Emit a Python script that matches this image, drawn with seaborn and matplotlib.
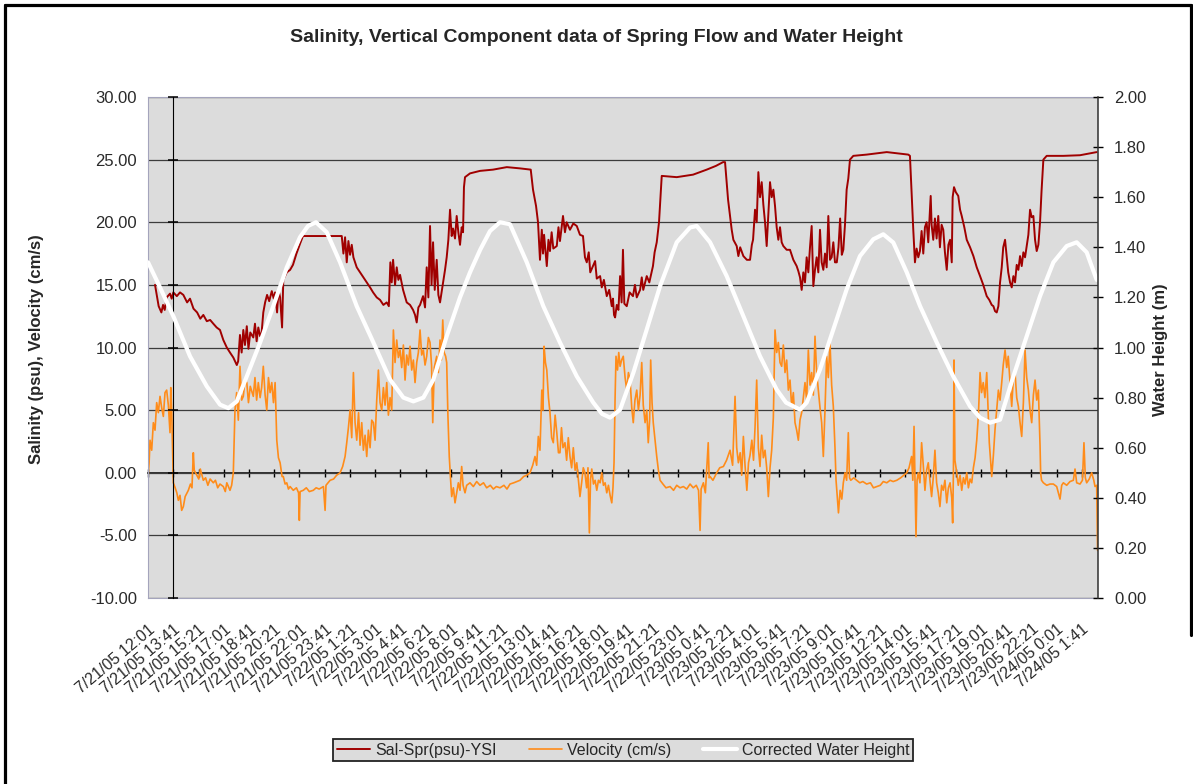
import numpy as np
import pandas as pd
import matplotlib
matplotlib.use("Agg")
import matplotlib.pyplot as plt
from matplotlib.lines import Line2D
from matplotlib.ticker import FormatStrFormatter
import seaborn as sns

# Data (hours after 7/21/05 12:01)
tick_labels = [
    "7/21/05 12:01", "7/21/05 13:41", "7/21/05 15:21", "7/21/05 17:01", "7/21/05 18:41",
    "7/21/05 20:21", "7/21/05 22:01", "7/21/05 23:41", "7/22/05 1:21", "7/22/05 3:01",
    "7/22/05 4:41", "7/22/05 6:21", "7/22/05 8:01", "7/22/05 9:41", "7/22/05 11:21",
    "7/22/05 13:01", "7/22/05 14:41", "7/22/05 16:21", "7/22/05 18:01", "7/22/05 19:41",
    "7/22/05 21:21", "7/22/05 23:01", "7/23/05 0:41", "7/23/05 2:21", "7/23/05 4:01",
    "7/23/05 5:41", "7/23/05 7:21", "7/23/05 9:01", "7/23/05 10:41", "7/23/05 12:21",
    "7/23/05 14:01", "7/23/05 15:41", "7/23/05 17:21", "7/23/05 19:01", "7/23/05 20:41",
    "7/23/05 22:21", "7/24/05 0:01", "7/24/05 1:41",
]
t_end = 62.73  # last sample, about 7/24/05 2:45
axis_cross_label = "7/21/05 13:41"

sal_hours = [
    0.46, 0.57, 0.70, 0.88, 0.99, 1.10, 1.23, 1.45, 1.56, 1.67, 1.90, 2.11, 2.33, 2.58, 2.77,
    3.00, 3.24, 3.45, 3.65, 3.88, 4.10, 4.31, 4.53, 4.75, 4.97, 5.20, 5.41, 5.63, 5.86, 5.95,
    6.07, 6.18, 6.29, 6.40, 6.52, 6.63, 6.75, 6.95, 7.06, 7.17, 7.28, 7.40, 7.50, 7.61, 7.73,
    7.86, 8.00, 8.17, 8.30, 8.39, 8.52, 8.62, 8.72, 8.85, 8.93, 9.16, 9.38, 9.57, 9.80, 10.04,
    10.23, 11.00, 12.00, 12.79, 12.90, 13.01, 13.12, 13.23, 13.34, 13.45, 13.56, 13.78, 14.00,
    14.22, 14.44, 14.66, 14.86, 15.10, 15.32, 15.54, 15.76, 15.90, 16.00, 16.09, 16.18, 16.31,
    16.42, 16.53, 16.64, 16.84, 17.08, 17.30, 17.50, 17.63, 17.74, 17.85, 17.96, 18.16, 18.29,
    18.40, 18.51, 18.62, 18.72, 18.82, 18.93, 19.06, 19.17, 19.28, 19.48, 19.61, 19.72, 19.83,
    19.94, 20.05, 20.14, 20.27, 20.38, 20.49, 20.60, 20.71, 20.80, 20.86, 20.93, 21.26, 21.92,
    22.78, 23.69, 24.56, 25.27, 25.42, 25.62, 25.75, 25.88, 26.00, 26.08, 26.15, 26.33, 26.44,
    26.54, 26.65, 26.76, 26.99, 27.10, 27.20, 27.40, 27.53, 27.64, 27.86, 28.08, 28.31, 28.52,
    28.72, 28.85, 28.97, 29.10, 29.20, 29.38, 29.52, 29.63, 29.85, 29.96, 30.10, 30.29, 30.45,
    30.62, 30.70, 30.77, 30.84, 30.95, 31.06, 31.17, 31.27, 31.36, 31.45, 31.61, 31.80, 32.02,
    32.15, 32.27, 32.49, 32.60, 32.70, 32.93, 33.10, 33.34, 33.45, 33.59, 33.74, 33.92, 34.91,
    35.99, 36.89, 37.50, 37.97, 38.10, 38.30, 38.54, 38.65, 38.87, 38.98, 39.10, 39.31, 39.54,
    39.75, 39.87, 39.95, 40.08, 40.19, 40.30, 40.41, 40.52, 40.63, 40.74, 40.85, 40.96, 41.07,
    41.18, 41.29, 41.40, 41.51, 41.62, 41.73, 41.84, 41.95, 42.17, 42.39, 42.61, 42.83, 42.94,
    43.05, 43.16, 43.27, 43.38, 43.49, 43.60, 43.71, 43.82, 43.93, 44.04, 44.15, 44.26, 44.37,
    44.48, 44.59, 44.70, 44.81, 44.92, 45.03, 45.14, 45.25, 45.36, 45.48, 45.59, 45.70, 45.81,
    45.91, 46.02, 46.13, 46.24, 46.35, 46.57, 47.45, 48.78, 50.20, 50.31, 50.42, 50.53, 50.64,
    50.75, 50.86, 50.97, 51.08, 51.19, 51.30, 51.41, 51.52, 51.63, 51.68, 51.74, 51.85, 51.96,
    52.07, 52.18, 52.29, 52.40, 52.51, 52.62, 52.74, 52.85, 52.96, 53.07, 53.13, 53.22, 53.34,
    53.50, 53.62, 53.73, 53.90, 54.06, 54.28, 54.50, 54.72, 54.94, 55.15, 55.38, 55.55, 55.71,
    55.82, 55.93, 56.04, 56.15, 56.26, 56.37, 56.47, 56.59, 56.70, 56.80, 56.92, 57.03, 57.14,
    57.25, 57.36, 57.47, 57.58, 57.69, 57.80, 57.91, 58.02, 58.13, 58.24, 58.35, 58.46, 58.57,
    58.68, 58.79, 58.90, 59.00, 59.12, 59.34, 60.44, 61.54, 62.64,
]
sal_psu = [
    15.0, 14.2, 13.3, 12.8, 13.4, 13.0, 14.0, 14.3, 13.9, 14.4, 14.1, 14.4, 14.2, 13.6, 13.9,
    13.1, 12.8, 12.3, 12.6, 12.1, 12.2, 11.9, 11.6, 11.4, 10.6, 10.0, 9.6, 9.2, 8.6, 8.9,
    11.0, 9.6, 11.4, 10.2, 11.7, 9.9, 11.2, 10.8, 11.9, 10.5, 11.6, 10.9, 11.2, 12.8, 13.6,
    14.2, 13.7, 14.5, 13.9, 14.4, 12.8, 14.6, 14.0, 11.6, 15.4, 16.0, 16.2, 16.6, 17.5, 18.3,
    18.9, 18.9, 18.9, 18.9, 17.5, 18.8, 16.8, 18.5, 17.4, 18.2, 17.2, 16.4, 16.0,
    15.6, 15.2, 14.8, 14.4, 14.0, 13.8, 13.4, 13.6, 13.3, 16.8, 15.2, 17.0, 15.0,
    16.4, 15.4, 15.8, 14.6, 13.6, 13.4, 13.0, 12.6, 12.0, 13.2, 13.4, 14.1, 13.2,
    16.4, 14.0, 19.7, 15.0, 18.4, 14.6, 17.0, 14.2, 13.6, 15.2, 16.2, 17.2, 18.6,
    21.0, 18.9, 19.5, 18.7, 20.5, 19.2, 18.2, 19.6, 19.2, 22.8, 23.6, 23.9, 24.1,
    24.2, 24.4, 24.3, 24.2, 22.6, 21.3, 20.0, 17.0, 19.4, 17.5, 19.0, 16.5, 18.6,
    17.7, 19.2, 17.9, 18.1, 19.6, 18.5, 20.5, 19.2, 20.0, 19.4, 19.9, 19.7, 19.0,
    18.9, 17.2, 16.8, 17.6, 16.0, 16.5, 16.9, 15.5, 15.7, 14.8, 15.4, 14.1, 14.6,
    13.3, 13.9, 12.6, 12.4, 13.4, 13.0, 15.7, 13.6, 17.8, 13.5, 13.3, 14.4, 14.1,
    15.0, 14.0, 14.6, 15.6, 14.6, 15.7, 15.2, 16.5, 17.6, 18.4, 20.0, 23.7, 23.6,
    23.8, 24.2, 24.5, 24.8, 24.8, 21.8, 19.4, 18.6, 18.1, 17.3, 18.0, 17.3, 17.0,
    17.0, 18.2, 18.6, 21.0, 20.0, 24.0, 22.0, 23.2, 21.4, 20.0, 18.1, 20.6, 23.2,
    22.0, 22.6, 21.3, 19.6, 18.6, 19.6, 18.4, 18.1, 17.8, 17.8, 17.0, 16.5, 16.1,
    15.6, 14.6, 16.0, 15.2, 17.2, 16.0, 18.0, 19.7, 14.9, 16.2, 17.2, 16.0, 19.4,
    16.8, 16.2, 17.5, 16.4, 20.5, 17.0, 17.2, 18.4, 16.8, 16.8, 18.0, 20.3, 17.4,
    17.8, 19.8, 22.6, 23.5, 25.0, 25.3, 25.4, 25.6, 25.4, 25.3, 22.4, 19.4, 16.8,
    17.9, 17.2, 17.7, 19.3, 17.5, 19.6, 20.0, 18.4, 21.0, 22.1, 19.8, 18.6, 20.3,
    18.7, 20.5, 18.0, 19.8, 19.4, 17.6, 16.2, 18.2, 18.6, 16.8, 22.0, 22.8, 22.4,
    22.1, 21.0, 20.5, 19.6, 18.6, 18.0, 17.3, 16.4, 15.7, 15.0, 14.1, 13.8, 13.4,
    13.3, 12.9, 12.8, 13.3, 15.2, 16.4, 18.0, 18.6, 17.2, 16.0, 15.2, 14.8, 15.7,
    15.2, 16.6, 16.2, 17.3, 16.5, 17.6, 17.2, 18.1, 19.0, 21.0, 20.4, 20.5, 18.6,
    17.7, 18.2, 20.0, 22.5, 25.0, 25.3, 25.3, 25.35, 25.6,
]

vel_hours = [
    0.00, 0.07, 0.13, 0.24, 0.35, 0.46, 0.57, 0.68, 0.79, 0.90, 1.01, 1.12, 1.23, 1.34, 1.45,
    1.50, 1.56, 1.62, 1.67, 1.79, 1.90, 2.00, 2.11, 2.22, 2.33, 2.45, 2.66, 2.80, 2.90, 2.99,
    3.05, 3.22, 3.35, 3.45, 3.65, 3.80, 3.95, 4.10, 4.31, 4.45, 4.60, 4.75, 4.97, 5.10, 5.20,
    5.41, 5.52, 5.63, 5.74, 5.85, 5.96, 6.07, 6.18, 6.29, 6.40, 6.52, 6.63, 6.75, 6.95, 7.06,
    7.17, 7.28, 7.40, 7.50, 7.61, 7.73, 7.84, 7.95, 8.06, 8.17, 8.28, 8.39, 8.50, 8.61, 8.72,
    8.85, 8.93, 9.05, 9.16, 9.27, 9.38, 9.59, 9.80, 9.94, 9.99, 10.04, 10.25, 10.45, 10.65, 10.91,
    11.10, 11.30, 11.58, 11.69, 11.75, 12.02, 12.25, 12.45, 12.68, 12.85, 13.01, 13.12, 13.23,
    13.34, 13.45, 13.56, 13.67, 13.78, 13.90, 14.00, 14.11, 14.22, 14.33, 14.44, 14.55, 14.66,
    14.77, 14.88, 14.99, 15.10, 15.21, 15.32, 15.43, 15.54, 15.65, 15.76, 15.87, 15.98, 16.09,
    16.20, 16.31, 16.42, 16.53, 16.64, 16.75, 16.86, 16.97, 17.08, 17.19, 17.30, 17.41, 17.52,
    17.63, 17.74, 17.85, 17.96, 18.07, 18.18, 18.29, 18.40, 18.51, 18.62, 18.72, 18.80, 18.90,
    19.06, 19.17, 19.28, 19.37, 19.46, 19.55, 19.65, 19.72, 19.80, 19.89, 19.97, 20.05, 20.16,
    20.27, 20.38, 20.49, 20.60, 20.71, 20.80, 20.93, 21.04, 21.26, 21.48, 21.70, 21.92, 22.15,
    22.36, 22.60, 22.80, 23.00, 23.24, 23.50, 23.70, 23.90, 24.15, 24.35, 24.56, 24.80, 25.00,
    25.22, 25.40, 25.55, 25.66, 25.77, 25.88, 26.00, 26.08, 26.15, 26.24, 26.33, 26.44, 26.54,
    26.65, 26.76, 26.88, 26.99, 27.10, 27.20, 27.30, 27.40, 27.53, 27.64, 27.75, 27.86, 27.97,
    28.08, 28.20, 28.31, 28.42, 28.52, 28.63, 28.74, 28.85, 28.96, 29.05, 29.14, 29.22, 29.30,
    29.41, 29.52, 29.63, 29.74, 29.85, 29.96, 30.07, 30.18, 30.29, 30.40, 30.51, 30.62, 30.70,
    30.77, 30.84, 30.90, 31.00, 31.08, 31.17, 31.27, 31.38, 31.50, 31.61, 31.72, 31.83, 31.94,
    32.04, 32.15, 32.27, 32.38, 32.49, 32.60, 32.70, 32.82, 32.93, 33.03, 33.12, 33.19, 33.28,
    33.36, 33.48, 33.59, 33.70, 33.81, 34.00, 34.20, 34.47, 34.70, 34.91, 35.13, 35.35, 35.57,
    35.79, 36.00, 36.20, 36.35, 36.45, 36.52, 36.67, 36.80, 36.99, 37.05, 37.11, 37.30, 37.55,
    37.75, 37.99, 38.20, 38.43, 38.60, 38.76, 38.87, 38.98, 39.10, 39.20, 39.31, 39.42, 39.54,
    39.65, 39.75, 39.87, 39.98, 40.08, 40.19, 40.30, 40.41, 40.52, 40.63, 40.74, 40.85, 40.96,
    41.07, 41.18, 41.29, 41.40, 41.51, 41.62, 41.73, 41.84, 41.95, 42.06, 42.17, 42.28, 42.39,
    42.50, 42.61, 42.72, 42.83, 42.94, 43.05, 43.16, 43.27, 43.38, 43.49, 43.60, 43.71, 43.82,
    43.93, 44.04, 44.15, 44.26, 44.37, 44.48, 44.59, 44.70, 44.81, 44.92, 45.03, 45.14, 45.25,
    45.36, 45.43, 45.52, 45.59, 45.70, 45.81, 45.91, 46.02, 46.13, 46.24, 46.32, 46.40, 46.60,
    46.79, 47.00, 47.20, 47.45, 47.70, 47.90, 48.12, 48.35, 48.55, 48.78, 49.00, 49.20, 49.44,
    49.70, 49.90, 50.10, 50.25, 50.42, 50.50, 50.58, 50.64, 50.71, 50.78, 50.86, 50.97, 51.08,
    51.19, 51.30, 51.41, 51.52, 51.63, 51.74, 51.85, 51.96, 52.07, 52.18, 52.29, 52.40, 52.51,
    52.62, 52.74, 52.85, 52.96, 53.07, 53.13, 53.18, 53.22, 53.28, 53.40, 53.50, 53.62, 53.73,
    53.84, 53.95, 54.06, 54.17, 54.28, 54.39, 54.50, 54.61, 54.72, 54.83, 54.94, 55.04, 55.15,
    55.26, 55.38, 55.46, 55.55, 55.63, 55.71, 55.82, 55.93, 56.04, 56.15, 56.26, 56.37, 56.47,
    56.59, 56.70, 56.80, 56.92, 57.03, 57.14, 57.25, 57.36, 57.47, 57.58, 57.69, 57.80, 57.91,
    58.02, 58.13, 58.24, 58.35, 58.46, 58.57, 58.68, 58.79, 58.90, 58.94, 59.00, 59.12, 59.34,
    59.56, 59.78, 60.00, 60.22, 60.33, 60.44, 60.66, 60.88, 61.10, 61.21, 61.32, 61.54, 61.70,
    61.80, 61.89, 61.98, 62.15, 62.31, 62.45, 62.53, 62.64, 62.70,
]
vel_cms = [
    -0.3, 0.8, 2.6, 1.8, 4.0, 3.4, 5.6, 4.8, 6.1, 5.2, 4.5, 6.4, 6.6, 5.4, 3.2,
    6.8, 5.0, 2.0, -0.8, -1.2, -1.6, -2.2, -1.8, -3.0, -2.7, -1.9, -1.4, -0.9, -1.2, 1.6,
    0.2, -0.2, -0.5, 0.3, -0.6, -0.4, -1.0, -0.5, -0.8, -0.6, -1.2, -0.9, -1.1, -1.5, -0.8,
    -1.4, -1.0, 0.0, 5.0, 6.4, 4.2, 8.5, 5.8, 6.1, 7.4, 7.2, 5.6, 6.9, 6.1, 7.6,
    5.8, 7.2, 6.0, 6.8, 8.5, 6.2, 5.0, 7.6, 6.4, 7.2, 5.6, 7.2, 2.6, 1.2, 0.8,
    -0.3, -0.3, -0.9, -0.8, -1.3, -1.1, -1.4, -1.2, -1.6, -3.8, -1.5, -1.4, -1.2, -1.5, -1.4,
    -1.2, -1.3, -1.1, -3.0, -1.0, -0.6, -0.5, -0.2, 0.0, 0.5, 1.3, 2.4, 3.6,
    5.0, 2.8, 8.0, 4.0, 2.6, 4.8, 2.2, 4.0, 1.8, 3.0, 1.3, 3.4, 2.0,
    4.2, 4.0, 2.6, 5.8, 8.2, 5.6, 5.0, 6.8, 5.4, 7.2, 4.6, 6.0, 5.0,
    11.4, 8.8, 10.6, 9.2, 9.8, 8.4, 10.2, 7.4, 9.4, 8.6, 10.1, 8.2, 9.0,
    7.2, 8.8, 9.6, 11.4, 9.4, 9.8, 8.6, 9.3, 10.8, 10.4, 8.6, 4.0, 8.4,
    9.3, 8.0, 10.6, 9.0, 12.2, 9.6, 9.3, 8.8, 4.6, 1.3, -0.4, -1.9, -1.2,
    -2.4, -1.6, -0.8, -1.4, 0.5, -1.0, -1.6, -1.0, -0.8, -1.1, -0.7, -1.0, -0.8,
    -1.2, -1.0, -1.3, -1.1, -1.2, -1.0, -1.3, -0.9, -0.8, -0.7, -0.6, -0.3, -0.2,
    0.0, 0.6, 1.3, 0.6, 2.9, 1.8, 6.6, 5.0, 10.1, 8.8, 8.2, 6.0, 4.8,
    2.8, 2.4, 4.6, 3.2, 1.6, 1.6, 3.6, 2.0, 2.4, 1.0, 2.8, 1.3, 0.4,
    2.0, 0.2, 0.8, -0.6, -1.9, -0.8, 0.4, 0.0, -1.2, 0.4, -4.8, -0.5, 0.3,
    -0.9, -0.6, -1.4, -0.6, -0.8, 0.0, -1.0, -0.8, -1.6, -1.0, -1.8, -2.4, -1.2,
    0.8, 6.0, 9.3, 8.2, 9.6, 8.5, 9.0, 9.3, 7.6, 6.6, 8.0, 7.4, 5.2,
    4.0, 5.8, 6.6, 5.0, 6.2, 8.8, 5.4, 4.0, 5.0, 2.4, 4.2, 9.0, 5.6,
    4.0, 2.6, 1.3, 0.2, -0.6, -0.9, -1.2, -1.1, -1.4, -1.0, -1.2, -1.1, -1.3,
    -0.9, -1.2, -1.0, -1.4, -4.6, -1.3, -0.8, -1.6, 2.4, -0.4, -0.3, -0.6, 0.0,
    0.4, 0.5, 1.0, 1.8, 0.6, 6.1, 2.0, 0.8, 1.6, -0.2, 2.9, 0.6, -1.4,
    0.8, 1.4, 2.6, 1.0, 3.6, 7.4, 2.0, 0.5, 3.0, 1.2, 1.8, 0.4, -1.9,
    0.4, 1.8, 4.4, 11.4, 9.6, 10.4, 8.8, 8.5, 10.2, 8.0, 9.0, 6.6, 7.4,
    5.3, 6.4, 4.0, 3.4, 2.6, 4.2, 4.8, 6.0, 7.2, 5.8, 9.8, 7.0, 8.0,
    6.2, 10.9, 8.0, 6.6, 5.2, 4.0, 1.3, 5.0, 9.3, 7.6, 10.4, 7.0, 5.3,
    2.0, -0.6, -2.0, -3.2, -1.4, -2.1, -0.8, 0.0, -0.6, 3.2, -0.4, -0.6, -0.4,
    -0.6, -0.8, -0.7, -0.9, -0.8, -1.2, -1.1, -1.0, -0.7, -0.8, -0.6, -0.7, -0.6,
    -0.4, -0.2, 0.0, 0.4, 1.3, -0.6, 3.7, -0.4, -5.1, -0.6, 0.0, -0.8, 2.4,
    0.6, -1.4, 0.2, 0.8, -0.6, -1.9, -0.4, 1.8, -0.8, -1.6, -2.7, -1.0, -1.4,
    -0.6, -2.4, -1.2, -0.8, -2.0, -4.0, 0.0, 9.0, 1.0, 0.0, -1.0, -0.2, -1.4,
    -0.4, -0.9, 0.0, -1.2, -0.5, -0.8, 0.4, 1.2, 2.6, 4.6, 8.0, 6.4, 7.2,
    6.0, 8.0, 5.4, 2.4, 1.0, -0.3, 1.4, 3.5, 5.0, 6.6, 5.8, 7.2, 8.6,
    9.8, 8.4, 9.3, 7.2, 5.3, 7.6, 8.0, 6.0, 5.3, 4.0, 2.9, 5.6, 9.8,
    7.6, 6.6, 5.0, 4.0, 6.2, 7.4, 5.8, 6.6, 2.2, 0.0, -0.6, -0.8, -1.0,
    -0.9, -0.9, -1.1, -2.1, -1.0, -0.8, -1.0, -0.7, -0.6, 0.3, -0.8, -0.9, -0.6,
    2.4, -0.4, -0.8, -0.5, 0.0, -0.6, -1.1, -1.0, -6.2,
]

wh_hours = [
    0.00, 0.79, 1.67, 2.77, 3.88, 4.75, 5.30, 5.86, 6.52, 7.40, 8.27, 9.16, 10.03, 10.56, 11.09,
    11.80, 12.68, 13.78, 14.88, 15.98, 16.86, 17.52, 18.18, 18.84, 19.72, 20.60, 21.26, 21.93,
    22.58, 23.24, 23.90, 25.01, 26.10, 27.20, 28.31, 29.40, 29.98, 30.51, 31.17, 32.05, 32.93,
    33.81, 34.91, 35.79, 36.23, 37.11, 38.21, 39.31, 40.41, 41.51, 42.13, 43.05, 43.49, 44.37,
    45.25, 46.13, 47.01, 47.89, 48.55, 49.21, 50.10, 50.98, 52.08, 53.17, 54.28, 54.94, 55.60,
    56.26, 57.14, 58.02, 58.90, 59.78, 60.66, 61.32, 61.98, 62.64,
]
wh_m = [
    1.34, 1.24, 1.125, 0.965, 0.845, 0.772, 0.758, 0.785, 0.885, 1.02, 1.165, 1.32, 1.44, 1.485,
    1.50, 1.46, 1.34, 1.165, 1.02, 0.872, 0.80, 0.785, 0.80, 0.872, 1.045, 1.20, 1.30, 1.39,
    1.465, 1.50, 1.492, 1.34, 1.165, 1.02, 0.885, 0.78, 0.735, 0.72, 0.752, 0.90, 1.072,
    1.245, 1.42, 1.479, 1.485, 1.42, 1.285, 1.125, 0.965, 0.832, 0.78, 0.752, 0.78, 0.912,
    1.072, 1.232, 1.365, 1.432, 1.452, 1.419, 1.30, 1.165, 1.02, 0.885, 0.765, 0.72, 0.70,
    0.712, 0.885, 1.045, 1.205, 1.34, 1.405, 1.42, 1.38, 1.27,
]

# tick positions straight from the category labels
start = pd.to_datetime(tick_labels[0], format="%m/%d/%y %H:%M")
tick_hours = [(pd.to_datetime(s, format="%m/%d/%y %H:%M") - start).total_seconds() / 3600
              for s in tick_labels]
cross_hour = (pd.to_datetime(axis_cross_label, format="%m/%d/%y %H:%M") - start).total_seconds() / 3600

sns.set_style("white")
plt.rcParams["font.family"] = ["Liberation Sans", "DejaVu Sans"]

fig = plt.figure(figsize=(11.93, 7.84), dpi=100)
ax = fig.add_axes([0.1241, 0.2372, 0.7963, 0.6391])
ax.set_facecolor("#DCDCDC")

ax.set_xlim(0, t_end)
ax.set_ylim(-10, 30)
ax.set_yticks(np.arange(-10, 31, 5))
ax.yaxis.set_major_formatter(FormatStrFormatter("%.2f"))
ax.grid(axis="y", color="#3c3c3c", lw=0.9)
ax.set_axisbelow(True)
for side in ["left", "top", "bottom"]:
    ax.spines[side].set_color("#a4a4bc")
ax.spines["right"].set_visible(False)
ax.tick_params(axis="y", length=0, pad=8, labelsize=12, labelcolor="#2a2a2a")
ax.set_xticks(tick_hours)
ax.set_xticklabels(tick_labels, rotation=40, ha="right", va="top",
                   rotation_mode="anchor", fontsize=11.5, color="#2a2a2a")
ax.tick_params(axis="x", length=0, pad=17)

sns.lineplot(x=sal_hours, y=sal_psu, ax=ax, color="#A00000", lw=1.4,
             estimator=None, sort=False, label="Sal-Spr(psu)-YSI", legend=False)
sns.lineplot(x=vel_hours, y=vel_cms, ax=ax, color="#FF8C1A", lw=1.2,
             estimator=None, sort=False, label="Velocity (cm/s)", legend=False)
ax.set_xlabel("")
ax.set_ylabel("")

# category axis crossing at 0, value axis crossing at 13:41
zero_axis = ax.secondary_xaxis((0 - (-10)) / 40)
zero_axis.set_xticks(tick_hours)
zero_axis.set_xticklabels([])
zero_axis.tick_params(direction="inout", length=6, width=1, color="black")
zero_axis.spines["bottom"].set_color("black")
zero_axis.spines["bottom"].set_linewidth(1.1)

val_axis = ax.secondary_yaxis(cross_hour / t_end)
val_axis.set_yticks(np.arange(-10, 31, 5))
val_axis.set_yticklabels([])
val_axis.tick_params(direction="inout", length=7, width=1.1, color="black")
val_axis.spines["left"].set_color("black")
val_axis.set_zorder(5)

ax2 = ax.twinx()
sns.lineplot(x=wh_hours, y=wh_m, ax=ax2, color="white", lw=3.0,
             estimator=None, sort=False, label="Corrected Water Height", legend=False)
ax2.set_ylim(0, 2)
ax2.set_xlim(0, t_end)
ax2.set_yticks(np.arange(0, 2.01, 0.2))
ax2.yaxis.set_major_formatter(FormatStrFormatter("%.2f"))
ax2.tick_params(axis="y", direction="inout", length=7, width=1, color="black",
                pad=8, labelsize=12, labelcolor="#2a2a2a")
ax2.spines["right"].set_color("#303030")
ax2.spines["right"].set_linewidth(1.1)
for side in ["left", "top", "bottom"]:
    ax2.spines[side].set_visible(False)
ax2.set_ylabel("")
ax2.set_xlabel("")

fig.text(0.5, 1 - 37 / 784, "Salinity, Vertical Component data of Spring Flow and Water Height",
         ha="center", va="center", fontsize=14, fontweight="bold")
fig.text(37 / 1193, 1 - 349 / 784, "Salinity (psu), Velocity (cm/s)", rotation=90,
         ha="center", va="center", fontsize=12, fontweight="bold")
fig.text(1161 / 1193, 1 - 350 / 784, "Water Height (m)", rotation=90,
         ha="center", va="center", fontsize=12, fontweight="bold")

handles = ax.get_lines()[:2] + ax2.get_lines()[:1]
handles = [Line2D([], [], color=h.get_color(), lw=h.get_linewidth()) for h in handles]
leg = fig.legend(handles, ["Sal-Spr(psu)-YSI", "Velocity (cm/s)", "Corrected Water Height"],
                 loc="center", bbox_to_anchor=(623 / 1193, 1 - 750 / 784), ncol=3,
                 fontsize=11.5, frameon=True, fancybox=False, framealpha=1,
                 facecolor="#DCDCDC", edgecolor="#222222", handlelength=2.1,
                 handletextpad=0.3, columnspacing=2.0, borderpad=0.25)
leg.get_frame().set_linewidth(1.3)

# outer frame of the pasted chart
frame_kw = dict(color="black", lw=2.3, transform=fig.transFigure)
fig.add_artist(Line2D([5 / 1193, 5 / 1193], [0, 1 - 5 / 784], **frame_kw))
fig.add_artist(Line2D([5 / 1193, 1191 / 1193], [1 - 5 / 784, 1 - 5 / 784], **frame_kw))
fig.add_artist(Line2D([1191 / 1193, 1191 / 1193], [1 - 5 / 784, 1 - 635 / 784], **frame_kw))

fig.savefig("out.png", dpi=100)
